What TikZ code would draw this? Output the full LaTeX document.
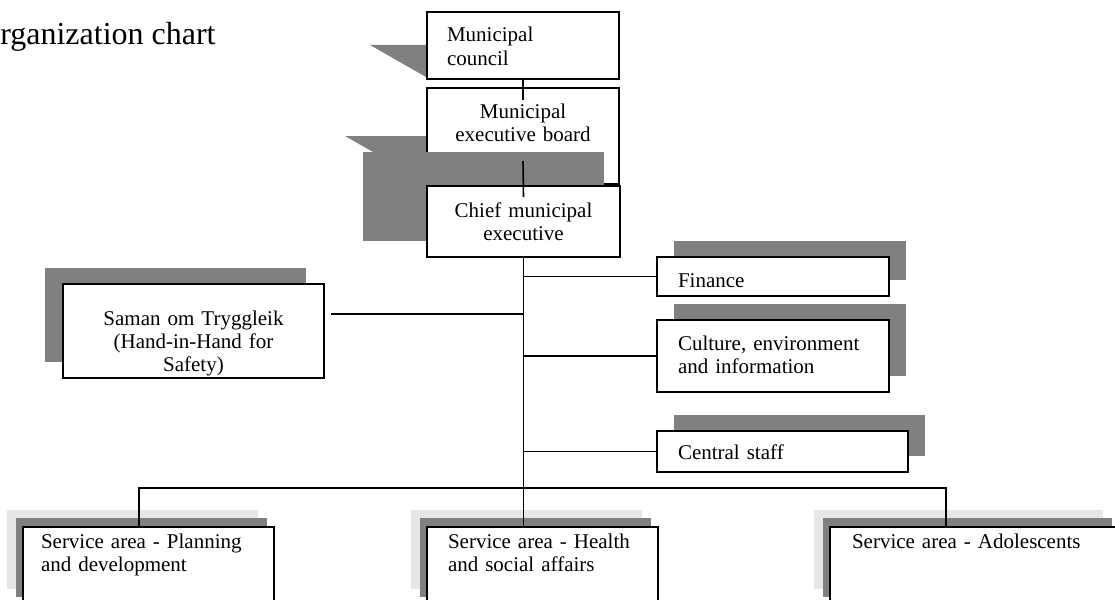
\documentclass[tikz,border=0pt]{standalone}
\usepackage{fontspec}
\setmainfont{Liberation Serif}
\usetikzlibrary{shadows}
\definecolor{shadowdark}{HTML}{808080}
\definecolor{shadowlight}{HTML}{E6E6E6}
\newcommand{\boxfont}{\fontsize{21}{23.3}\selectfont}
\newcommand{\titlefont}{\fontsize{32}{36}\selectfont}

\begin{document}
\begin{tikzpicture}[x=1pt, y=-1pt]
        % Define styles for boxes and shadows
        \tikzset{
            box/.style={draw, fill=white, line width=1.9pt, anchor=north west, inner ysep=0pt, outer sep=0pt, font=\boxfont},
            leftbox/.style={box, align=left},
            midbox/.style={box, align=center, inner xsep=4pt},
            shadowup/.style={general shadow={shadow xshift=16.5pt, shadow yshift=16.5pt, fill=shadowdark, draw=none}},
            shadowleft/.style={general shadow={shadow xshift=-18pt, shadow yshift=16pt, fill=shadowdark, draw=none}},
            shadowtwo/.style={general shadow={shadow xshift=-16pt, shadow yshift=17pt, fill=shadowlight, draw=none},
                              general shadow={shadow xshift=-7.5pt, shadow yshift=9pt, fill=shadowdark, draw=none}},
            link/.style={line width=1.6pt}
        }
        \useasboundingbox (0,0) rectangle (1115,599);
        \clip (0,0) rectangle (1115,599);

        \node[anchor=base west, inner sep=0pt, font=\titlefont] (title) at (-23,45) {Organization chart};

        % Draw top of the chart
        \fill[shadowdark] (370,45) -- (427,45) -- (426,77) -- cycle;
        \node[leftbox, inner xsep=20pt, text width=152pt, text height=30pt, text depth=37pt] (council) at (427,12) {Municipal\\council};
        \fill[shadowdark] (345,136) -- (427,136) -- (427,152) -- (373,152) -- cycle;
        \node[midbox, text width=184pt, text height=30pt, text depth=66pt] (board) at (427,88) {Municipal\\executive board};
        \fill[shadowdark] (363,152) rectangle (604,241);
        \node[midbox, text width=185pt, text height=31pt, text depth=40pt] (chief) at (427,186) {Chief municipal\\executive};

        % Draw staff boxes
        \node[leftbox, shadowup, inner xsep=21pt, text width=190pt, text height=30pt, text depth=9pt] (finance) at (657,257) {Finance};
        \node[leftbox, shadowup, inner xsep=21pt, text width=190pt, text height=30pt, text depth=42pt] (culture) at (657,320) {Culture, environment\\and information};
        \node[leftbox, shadowup, inner xsep=21pt, text width=209pt, text height=28pt, text depth=13pt] (central) at (657,431) {Central staff};
        \node[midbox, shadowleft, text width=253pt, text height=41pt, text depth=53pt] (saman) at (63,284) {Saman om Tryggleik\\(Hand-in-Hand for\\Safety)};

        % Draw service areas
        \node[leftbox, shadowtwo, inner xsep=18pt, text width=215pt, text height=21pt, text depth=58pt] (plan) at (23,527) {Service area - Planning\\and development};
        \node[leftbox, shadowtwo, inner xsep=21pt, text width=189pt, text height=21pt, text depth=58pt] (health) at (427,527) {Service area - Health\\and social affairs};
        \node[leftbox, shadowtwo, inner xsep=22pt, text width=245pt, text height=21pt, text depth=58pt] (adol) at (830,527) {Service area - Adolescents};

        % Draw lines
        \draw[link] (council.south) -- ([yshift=-12pt]board.north);
        \draw[link] ([yshift=23pt]board.south) -- ([yshift=-11pt]chief.north);
        \draw[link] (chief.south) -- (chief.south |- health.north);
        \draw[link] (chief.south |- finance.west) -- (finance.west);
        \draw[link] (chief.south |- culture.west) -- (culture.west);
        \draw[link] (chief.south |- central.west) -- (central.west);
        \coordinate (samanlink) at ([yshift=17pt]saman.east);
        \draw[link, shorten <=7pt] (samanlink) -- (chief.south |- samanlink);
        \coordinate (hub) at (chief.south |- 0,488);
        \draw[link] ([xshift=116pt]plan.north west) |- (hub) -| ([xshift=116pt]adol.north west);
    \end{tikzpicture}
\end{document}
